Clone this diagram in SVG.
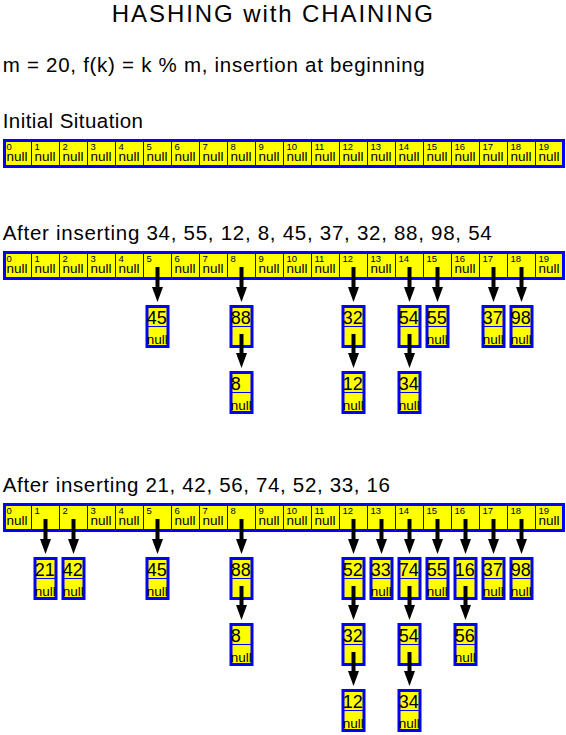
<svg xmlns="http://www.w3.org/2000/svg" xmlns:xlink="http://www.w3.org/1999/xlink" width="566" height="735" viewBox="0 0 566 735">
<style>
text{font-family:"Liberation Sans",Arial,sans-serif;fill:#000}
.t{font-size:24px}
.h{font-size:20.5px}
.idx{font-size:9.5px}
.nul{font-size:13.5px}
.val{font-size:18px}
.box{fill:#ff0;stroke:#00f;stroke-width:3}
.dv{stroke:#00f;stroke-width:1;fill:none}
.arr{stroke:#000;stroke-width:4;marker-end:url(#ah)}
</style>
<defs>
<marker id="ah" markerUnits="userSpaceOnUse" markerWidth="11" markerHeight="15" viewBox="0 0 11 15" refX="5.5" refY="1" orient="0" overflow="visible">
<polygon points="0,0 11,0 5.5,15" fill="#000"/>
</marker>
<path id="dvs" class="dv" d="M31.5 0v29M59.5 0v29M87.5 0v29M115.5 0v29M143.5 0v29M171.5 0v29M199.5 0v29M227.5 0v29M255.5 0v29M283.5 0v29M311.5 0v29M339.5 0v29M367.5 0v29M395.5 0v29M423.5 0v29M451.5 0v29M479.5 0v29M507.5 0v29M535.5 0v29"/>
<g id="idxrow" class="idx">
<text x="6.5" y="11">0</text><text x="34.5" y="11">1</text><text x="62.5" y="11">2</text><text x="90.5" y="11">3</text><text x="118.5" y="11">4</text><text x="146.5" y="11">5</text><text x="174.5" y="11">6</text><text x="202.5" y="11">7</text><text x="230.5" y="11">8</text><text x="258.5" y="11">9</text><text x="286.5" y="11">10</text><text x="314.5" y="11">11</text><text x="342.5" y="11">12</text><text x="370.5" y="11">13</text><text x="398.5" y="11">14</text><text x="426.5" y="11">15</text><text x="454.5" y="11">16</text><text x="482.5" y="11">17</text><text x="510.5" y="11">18</text><text x="538.5" y="11">19</text>
</g>
<g id="node">
<rect class="box" x="-10.5" y="1.5" width="21" height="40"/>
<path class="dv" d="M-10.5 21.5h21"/>
</g>
</defs>

<g id="labels">
<text class="t" x="272.3" y="22" text-anchor="middle" textLength="321" lengthAdjust="spacing">HASHING with CHAINING</text>
<text class="h" x="2.7" y="71.7" textLength="422" lengthAdjust="spacing">m = 20, f(k) = k % m, insertion at beginning</text>
<text class="h" x="2.7" y="128" textLength="140.3" lengthAdjust="spacing">Initial Situation</text>
<text class="h" x="2.7" y="240.3" textLength="489" lengthAdjust="spacing">After inserting 34, 55, 12, 8, 45, 37, 32, 88, 98, 54</text>
<text class="h" x="2.7" y="492" textLength="387.3" lengthAdjust="spacing">After inserting 21, 42, 56, 74, 52, 33, 16</text>
</g>

<g id="table1" transform="translate(0,139)">
<rect class="box" x="4.5" y="1.5" width="559" height="26"/>
<use xlink:href="#dvs"/>
<use xlink:href="#idxrow"/>
<g class="nul">
<text x="6.5" y="21.5">null</text><text x="34.5" y="21.5">null</text><text x="62.5" y="21.5">null</text><text x="90.5" y="21.5">null</text><text x="118.5" y="21.5">null</text><text x="146.5" y="21.5">null</text><text x="174.5" y="21.5">null</text><text x="202.5" y="21.5">null</text><text x="230.5" y="21.5">null</text><text x="258.5" y="21.5">null</text><text x="286.5" y="21.5">null</text><text x="314.5" y="21.5">null</text><text x="342.5" y="21.5">null</text><text x="370.5" y="21.5">null</text><text x="398.5" y="21.5">null</text><text x="426.5" y="21.5">null</text><text x="454.5" y="21.5">null</text><text x="482.5" y="21.5">null</text><text x="510.5" y="21.5">null</text><text x="538.5" y="21.5">null</text>
</g>
</g>

<g id="table2" transform="translate(0,251)">
<rect class="box" x="4.5" y="1.5" width="559" height="26"/>
<use xlink:href="#dvs"/>
<use xlink:href="#idxrow"/>
<g class="nul">
<text x="6.5" y="21.5">null</text><text x="34.5" y="21.5">null</text><text x="62.5" y="21.5">null</text><text x="90.5" y="21.5">null</text><text x="118.5" y="21.5">null</text><text x="174.5" y="21.5">null</text><text x="202.5" y="21.5">null</text><text x="258.5" y="21.5">null</text><text x="286.5" y="21.5">null</text><text x="314.5" y="21.5">null</text><text x="370.5" y="21.5">null</text><text x="454.5" y="21.5">null</text><text x="538.5" y="21.5">null</text>
</g>
</g>

<g id="t2n45" transform="translate(157.5,305)"><use xlink:href="#node"/><text class="val" x="-10.8" y="18.5">45</text><text class="nul" x="-10.8" y="39">null</text></g>
<g id="t2n88" transform="translate(241.5,305)"><use xlink:href="#node"/><text class="val" x="-10.8" y="18.5">88</text></g>
<g id="t2n8" transform="translate(241.5,371)"><use xlink:href="#node"/><text class="val" x="-10.8" y="18.5">8</text><text class="nul" x="-10.8" y="39">null</text></g>
<g id="t2n32" transform="translate(353.5,305)"><use xlink:href="#node"/><text class="val" x="-10.8" y="18.5">32</text></g>
<g id="t2n12" transform="translate(353.5,371)"><use xlink:href="#node"/><text class="val" x="-10.8" y="18.5">12</text><text class="nul" x="-10.8" y="39">null</text></g>
<g id="t2n54" transform="translate(409.5,305)"><use xlink:href="#node"/><text class="val" x="-10.8" y="18.5">54</text></g>
<g id="t2n34" transform="translate(409.5,371)"><use xlink:href="#node"/><text class="val" x="-10.8" y="18.5">34</text><text class="nul" x="-10.8" y="39">null</text></g>
<g id="t2n55" transform="translate(437.5,305)"><use xlink:href="#node"/><text class="val" x="-10.8" y="18.5">55</text><text class="nul" x="-10.8" y="39">null</text></g>
<g id="t2n37" transform="translate(493.5,305)"><use xlink:href="#node"/><text class="val" x="-10.8" y="18.5">37</text><text class="nul" x="-10.8" y="39">null</text></g>
<g id="t2n98" transform="translate(521.5,305)"><use xlink:href="#node"/><text class="val" x="-10.8" y="18.5">98</text><text class="nul" x="-10.8" y="39">null</text></g>

<g id="table3" transform="translate(0,503)">
<rect class="box" x="4.5" y="1.5" width="559" height="26"/>
<use xlink:href="#dvs"/>
<use xlink:href="#idxrow"/>
<g class="nul">
<text x="6.5" y="21.5">null</text><text x="90.5" y="21.5">null</text><text x="118.5" y="21.5">null</text><text x="174.5" y="21.5">null</text><text x="202.5" y="21.5">null</text><text x="258.5" y="21.5">null</text><text x="286.5" y="21.5">null</text><text x="314.5" y="21.5">null</text><text x="538.5" y="21.5">null</text>
</g>
</g>

<g id="t3n21" transform="translate(45.5,557)"><use xlink:href="#node"/><text class="val" x="-10.8" y="18.5">21</text><text class="nul" x="-10.8" y="39">null</text></g>
<g id="t3n42" transform="translate(73.5,557)"><use xlink:href="#node"/><text class="val" x="-10.8" y="18.5">42</text><text class="nul" x="-10.8" y="39">null</text></g>
<g id="t3n45" transform="translate(157.5,557)"><use xlink:href="#node"/><text class="val" x="-10.8" y="18.5">45</text><text class="nul" x="-10.8" y="39">null</text></g>
<g id="t3n88" transform="translate(241.5,557)"><use xlink:href="#node"/><text class="val" x="-10.8" y="18.5">88</text></g>
<g id="t3n8" transform="translate(241.5,623)"><use xlink:href="#node"/><text class="val" x="-10.8" y="18.5">8</text><text class="nul" x="-10.8" y="39">null</text></g>
<g id="t3n52" transform="translate(353.5,557)"><use xlink:href="#node"/><text class="val" x="-10.8" y="18.5">52</text></g>
<g id="t3n32" transform="translate(353.5,623)"><use xlink:href="#node"/><text class="val" x="-10.8" y="18.5">32</text></g>
<g id="t3n12" transform="translate(353.5,689)"><use xlink:href="#node"/><text class="val" x="-10.8" y="18.5">12</text><text class="nul" x="-10.8" y="39">null</text></g>
<g id="t3n33" transform="translate(381.5,557)"><use xlink:href="#node"/><text class="val" x="-10.8" y="18.5">33</text><text class="nul" x="-10.8" y="39">null</text></g>
<g id="t3n74" transform="translate(409.5,557)"><use xlink:href="#node"/><text class="val" x="-10.8" y="18.5">74</text></g>
<g id="t3n54" transform="translate(409.5,623)"><use xlink:href="#node"/><text class="val" x="-10.8" y="18.5">54</text></g>
<g id="t3n34" transform="translate(409.5,689)"><use xlink:href="#node"/><text class="val" x="-10.8" y="18.5">34</text><text class="nul" x="-10.8" y="39">null</text></g>
<g id="t3n55" transform="translate(437.5,557)"><use xlink:href="#node"/><text class="val" x="-10.8" y="18.5">55</text><text class="nul" x="-10.8" y="39">null</text></g>
<g id="t3n16" transform="translate(465.5,557)"><use xlink:href="#node"/><text class="val" x="-10.8" y="18.5">16</text></g>
<g id="t3n56" transform="translate(465.5,623)"><use xlink:href="#node"/><text class="val" x="-10.8" y="18.5">56</text><text class="nul" x="-10.8" y="39">null</text></g>
<g id="t3n37" transform="translate(493.5,557)"><use xlink:href="#node"/><text class="val" x="-10.8" y="18.5">37</text><text class="nul" x="-10.8" y="39">null</text></g>
<g id="t3n98" transform="translate(521.5,557)"><use xlink:href="#node"/><text class="val" x="-10.8" y="18.5">98</text><text class="nul" x="-10.8" y="39">null</text></g>

<g id="connectors">
<line class="arr" x1="157.5" y1="267" x2="157.5" y2="288"/>
<line class="arr" x1="241.5" y1="267" x2="241.5" y2="288"/>
<line class="arr" x1="353.5" y1="267" x2="353.5" y2="288"/>
<line class="arr" x1="409.5" y1="267" x2="409.5" y2="288"/>
<line class="arr" x1="437.5" y1="267" x2="437.5" y2="288"/>
<line class="arr" x1="493.5" y1="267" x2="493.5" y2="288"/>
<line class="arr" x1="521.5" y1="267" x2="521.5" y2="288"/>
<line class="arr" x1="241.5" y1="334" x2="241.5" y2="354"/>
<line class="arr" x1="353.5" y1="334" x2="353.5" y2="354"/>
<line class="arr" x1="409.5" y1="334" x2="409.5" y2="354"/>

<line class="arr" x1="45.5" y1="519" x2="45.5" y2="540"/>
<line class="arr" x1="73.5" y1="519" x2="73.5" y2="540"/>
<line class="arr" x1="157.5" y1="519" x2="157.5" y2="540"/>
<line class="arr" x1="241.5" y1="519" x2="241.5" y2="540"/>
<line class="arr" x1="353.5" y1="519" x2="353.5" y2="540"/>
<line class="arr" x1="381.5" y1="519" x2="381.5" y2="540"/>
<line class="arr" x1="409.5" y1="519" x2="409.5" y2="540"/>
<line class="arr" x1="437.5" y1="519" x2="437.5" y2="540"/>
<line class="arr" x1="465.5" y1="519" x2="465.5" y2="540"/>
<line class="arr" x1="493.5" y1="519" x2="493.5" y2="540"/>
<line class="arr" x1="521.5" y1="519" x2="521.5" y2="540"/>
<line class="arr" x1="241.5" y1="586" x2="241.5" y2="606"/>
<line class="arr" x1="353.5" y1="586" x2="353.5" y2="606"/>
<line class="arr" x1="409.5" y1="586" x2="409.5" y2="606"/>
<line class="arr" x1="465.5" y1="586" x2="465.5" y2="606"/>
<line class="arr" x1="353.5" y1="652" x2="353.5" y2="672"/>
<line class="arr" x1="409.5" y1="652" x2="409.5" y2="672"/>
</g>
</svg>
